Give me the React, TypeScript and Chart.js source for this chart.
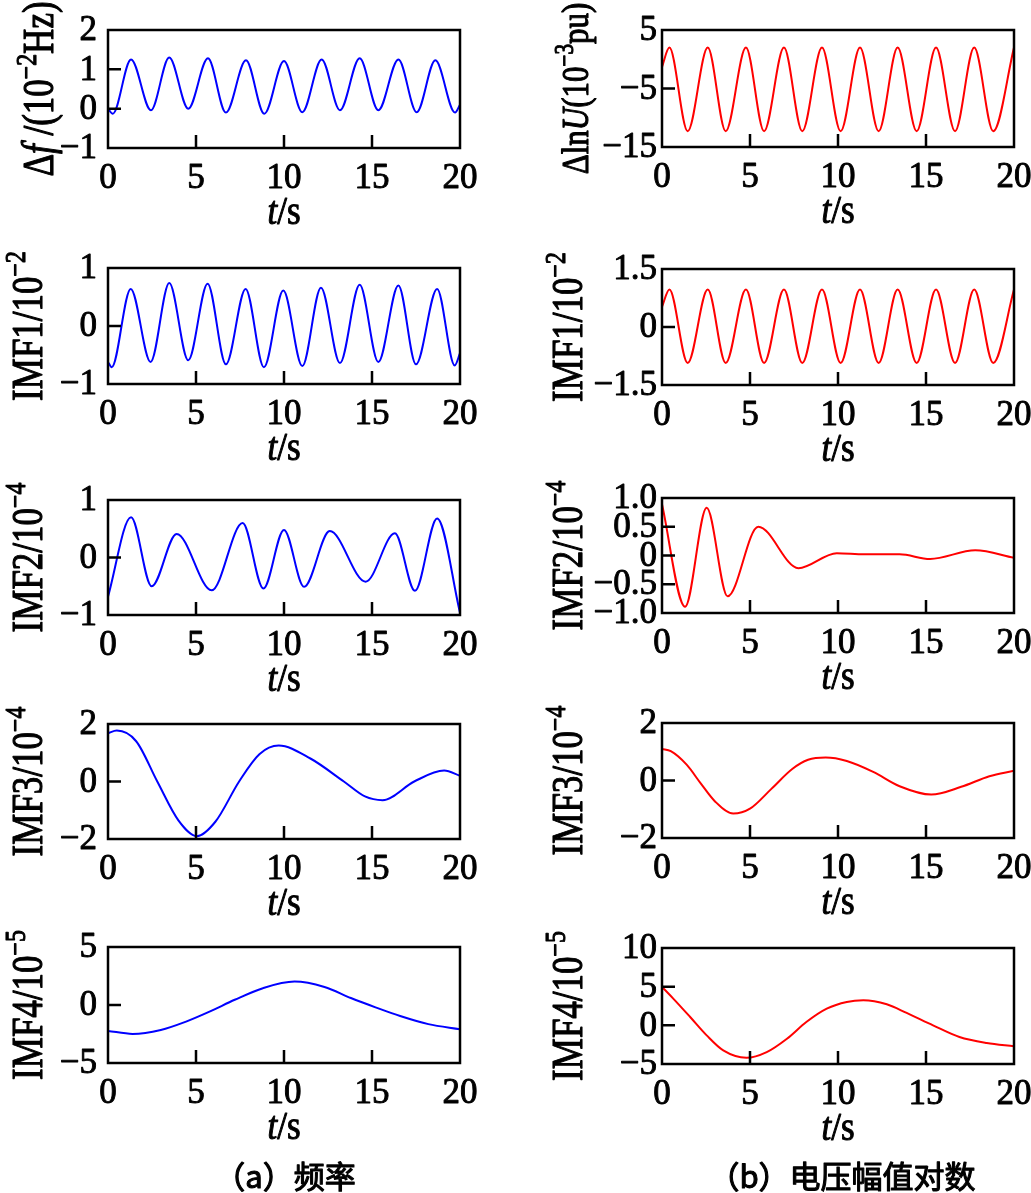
import React, { useEffect, useRef } from 'react';
import { Chart, registerables } from 'chart.js';

Chart.register(...registerables);

const PAGE_W = 1031;
const PAGE_H = 1193;
const SERIF = '"Liberation Serif", "Times New Roman", serif';
const CJK = '"Noto Sans CJK SC", sans-serif';

// ---------- data (time in s) ----------
const T_DF = [0, 0.27, 1.31, 2.44, 3.48, 4.56, 5.68, 6.7, 7.84, 8.88, 10.0, 11.04, 12.14, 13.18, 14.3, 15.36, 16.5, 17.54, 18.6, 19.72, 20];
const V_DF = [0.0, -0.13, 1.25, -0.04, 1.3, 0.0, 1.28, -0.1, 1.23, -0.13, 1.21, -0.09, 1.25, -0.04, 1.28, -0.04, 1.25, -0.09, 1.23, -0.1, 0.1];

const T_DLNU = [0, 0.42, 1.46, 2.6, 3.62, 4.77, 5.8, 6.93, 7.97, 9.09, 10.15, 11.25, 12.31, 13.39, 14.47, 15.57, 16.65, 17.74, 18.82, 20];
const V_DLNU = [-1.3, 2.0, -12.3, 2.0, -12.3, 2.0, -12.3, 2.0, -12.3, 2.0, -12.3, 2.0, -12.3, 2.0, -12.3, 2.0, -12.3, 2.0, -12.3, 2.0];

const T_F_IMF1 = [0, 0.21, 1.29, 2.42, 3.48, 4.56, 5.66, 6.7, 7.82, 8.86, 9.96, 11.04, 12.1, 13.18, 14.3, 15.36, 16.5, 17.5, 18.7, 19.7, 20];
const V_F_IMF1 = [-0.62, -0.71, 0.64, -0.62, 0.74, -0.59, 0.73, -0.66, 0.64, -0.71, 0.61, -0.69, 0.66, -0.64, 0.71, -0.62, 0.7, -0.66, 0.64, -0.68, -0.47];

const T_U_IMF1 = [0, 0.42, 1.46, 2.6, 3.62, 4.77, 5.8, 6.93, 7.97, 9.09, 10.15, 11.25, 12.31, 13.39, 14.47, 15.57, 16.65, 17.74, 18.82, 20];
const V_U_IMF1 = [0.52, 0.97, -0.93, 0.97, -0.93, 0.97, -0.93, 0.97, -0.93, 0.97, -0.93, 0.97, -0.93, 0.97, -0.93, 0.97, -0.93, 0.97, -0.93, 0.97];

const T_F_IMF2 = [0, 1.31, 2.48, 3.9, 5.89, 7.65, 8.83, 10.0, 11.14, 12.6, 14.64, 16.3, 17.44, 18.7, 20];
const V_F_IMF2 = [-0.68, 0.7, -0.5, 0.41, -0.57, 0.6, -0.54, 0.48, -0.51, 0.46, -0.42, 0.42, -0.58, 0.68, -0.96];

const T_U_IMF2 = [0, 1.31, 2.54, 3.73, 5.47, 7.75, 9.93, 11.5, 13.5, 15.23, 17.8, 20];
const V_U_IMF2 = [0.89, -0.89, 0.83, -0.71, 0.5, -0.22, 0.04, 0.02, 0.02, -0.06, 0.09, -0.04];

const T_F_IMF3 = [0, 0.5, 1.6, 2.8, 4.0, 5.05, 6.1, 7.45, 8.6, 9.7, 11.5, 13.4, 14.6, 15.6, 17.4, 19.1, 20];
const V_F_IMF3 = [1.68, 1.77, 1.4, 0.0, -1.35, -1.9, -1.4, 0.0, 0.95, 1.25, 0.8, 0.0, -0.52, -0.65, 0.0, 0.38, 0.2];

const T_U_IMF3 = [0, 0.5, 1.4, 2.2, 3.0, 4.05, 5.0, 6.2, 7.4, 8.3, 9.3, 10.5, 12.0, 13.5, 15.3, 17.0, 18.6, 20];
const V_U_IMF3 = [1.1, 1.02, 0.55, -0.1, -0.72, -1.15, -0.98, -0.3, 0.4, 0.72, 0.8, 0.68, 0.3, -0.2, -0.49, -0.22, 0.15, 0.34];

const T_F_IMF4 = [0, 1.4, 3.0, 4.4, 5.8, 7.2, 8.8, 10.6, 12.3, 13.8, 15.2, 16.6, 18.2, 20];
const V_F_IMF4 = [-2.23, -2.49, -2.15, -1.45, -0.55, 0.45, 1.45, 2.02, 1.55, 0.6, -0.2, -0.95, -1.65, -2.09];

const T_U_IMF4 = [0, 0.64, 1.6, 2.54, 3.48, 4.8, 5.95, 7.1, 8.2, 9.36, 10.5, 11.44, 12.77, 13.9, 15.4, 16.9, 18.45, 20];
const V_U_IMF4 = [4.97, 3.46, 1.08, -1.3, -3.24, -4.19, -3.46, -1.73, 0.43, 2.16, 3.03, 3.24, 2.72, 1.6, 0.0, -1.51, -2.29, -2.72];

// ---------- ticks ----------
const X_TICKS = [0, 5, 10, 15, 20];
const X_TICK_LABELS = ['0', '5', '10', '15', '20'];

const Y_TICKS_DF = [-1, 0, 1, 2];
const Y_LABELS_DF = ['\u22121', '0', '1', '2'];
const Y_TICKS_DLNU = [-15, -5, 5];
const Y_LABELS_DLNU = ['\u221215', '\u22125', '5'];
const Y_TICKS_F1 = [-1, 0, 1];
const Y_LABELS_F1 = ['\u22121', '0', '1'];
const Y_TICKS_U1 = [-1.5, 0, 1.5];
const Y_LABELS_U1 = ['\u22121.5', '0', '1.5'];
const Y_TICKS_F2 = [-1, 0, 1];
const Y_LABELS_F2 = ['\u22121', '0', '1'];
const Y_TICKS_U2 = [-1, -0.5, 0, 0.5, 1];
const Y_LABELS_U2 = ['\u22121.0', '\u22120.5', '0', '0.5', '1.0'];
const Y_TICKS_F3 = [-2, 0, 2];
const Y_LABELS_F3 = ['\u22122', '0', '2'];
const Y_TICKS_U3 = [-2, 0, 2];
const Y_LABELS_U3 = ['\u22122', '0', '2'];
const Y_TICKS_F4 = [-5, 0, 5];
const Y_LABELS_F4 = ['\u22125', '0', '5'];
const Y_TICKS_U4 = [-5, 0, 5, 10];
const Y_LABELS_U4 = ['\u22125', '0', '5', '10'];

const X_TITLE = [{ t: 't', it: true }, { t: '/s' }];
const TITLE_A = '\uff08a\uff09\u9891\u7387';
const TITLE_B = '\uff08b\uff09\u7535\u538b\u5e45\u503c\u5bf9\u6570';

type Part = { t: string; it?: boolean; sup?: boolean };

const BLUE = 'rgb(0,0,255)';
const RED = 'rgb(255,0,0)';

interface Panel {
  t: number[];
  v: number[];
  color: string;
  yTicks: number[];
  yLabels: string[];
  box: [number, number, number, number];
  yTitle: Part[];
  yTitleX: number;
  yTitleSize: number;
  gap: number;
  caption?: string;
  captionX?: number;
}

const imf = (n: string, e: string): Part[] => [{ t: 'IMF' + n + '/10' }, { t: '\u2212' + e, sup: true }];

const PANELS: Panel[] = [
  { t: T_DF, v: V_DF, color: BLUE, yTicks: Y_TICKS_DF, yLabels: Y_LABELS_DF, box: [108, 30, 460, 148],
    yTitle: [{ t: '\u0394' }, { t: 'f', it: true }, { t: ' /(10' }, { t: '\u22122', sup: true }, { t: 'Hz)' }], yTitleX: 53, yTitleSize: 35, gap: 11 },
  { t: T_DLNU, v: V_DLNU, color: RED, yTicks: Y_TICKS_DLNU, yLabels: Y_LABELS_DLNU, box: [662, 30, 1014, 147],
    yTitle: [{ t: '\u0394ln' }, { t: 'U', it: true }, { t: '(10' }, { t: '\u22123', sup: true }, { t: 'pu)' }], yTitleX: 588, yTitleSize: 31, gap: 5 },
  { t: T_F_IMF1, v: V_F_IMF1, color: BLUE, yTicks: Y_TICKS_F1, yLabels: Y_LABELS_F1, box: [108, 268, 460, 384], yTitle: imf('1', '2'), yTitleX: 42, yTitleSize: 35, gap: 11 },
  { t: T_U_IMF1, v: V_U_IMF1, color: RED, yTicks: Y_TICKS_U1, yLabels: Y_LABELS_U1, box: [662, 269, 1014, 385], yTitle: imf('1', '2'), yTitleX: 582, yTitleSize: 35, gap: 5 },
  { t: T_F_IMF2, v: V_F_IMF2, color: BLUE, yTicks: Y_TICKS_F2, yLabels: Y_LABELS_F2, box: [108, 500, 460, 615], yTitle: imf('2', '4'), yTitleX: 42, yTitleSize: 35, gap: 11 },
  { t: T_U_IMF2, v: V_U_IMF2, color: RED, yTicks: Y_TICKS_U2, yLabels: Y_LABELS_U2, box: [662, 498, 1014, 613], yTitle: imf('2', '4'), yTitleX: 582, yTitleSize: 35, gap: 5 },
  { t: T_F_IMF3, v: V_F_IMF3, color: BLUE, yTicks: Y_TICKS_F3, yLabels: Y_LABELS_F3, box: [108, 724, 460, 839], yTitle: imf('3', '4'), yTitleX: 42, yTitleSize: 35, gap: 11 },
  { t: T_U_IMF3, v: V_U_IMF3, color: RED, yTicks: Y_TICKS_U3, yLabels: Y_LABELS_U3, box: [662, 723, 1014, 838], yTitle: imf('3', '4'), yTitleX: 582, yTitleSize: 35, gap: 5 },
  { t: T_F_IMF4, v: V_F_IMF4, color: BLUE, yTicks: Y_TICKS_F4, yLabels: Y_LABELS_F4, box: [108, 947, 460, 1063], yTitle: imf('4', '5'), yTitleX: 42, yTitleSize: 35, gap: 11,
    caption: TITLE_A, captionX: 285 },
  { t: T_U_IMF4, v: V_U_IMF4, color: RED, yTicks: Y_TICKS_U4, yLabels: Y_LABELS_U4, box: [662, 948, 1014, 1064], yTitle: imf('4', '5'), yTitleX: 582, yTitleSize: 35, gap: 5,
    caption: TITLE_B, captionX: 842 },
];

const STROKE_W = 0.9;

function partFont(p: Part, size: number) {
  const s = p.sup ? size * 0.68 : size;
  return `${p.it ? 'italic ' : ''}${s}px ${SERIF}`;
}

function fillStroke(ctx: CanvasRenderingContext2D, text: string, x: number, y: number) {
  ctx.fillText(text, x, y);
  ctx.strokeText(text, x, y);
}

function drawRich(ctx: CanvasRenderingContext2D, parts: Part[], cx: number, baseY: number, size: number) {
  let w = 0;
  const widths: number[] = [];
  for (const p of parts) {
    ctx.font = partFont(p, size);
    const m = ctx.measureText(p.t).width;
    widths.push(m);
    w += m;
  }
  let x = cx - w / 2;
  ctx.textAlign = 'left';
  ctx.textBaseline = 'alphabetic';
  parts.forEach((p, i) => {
    ctx.font = partFont(p, size);
    fillStroke(ctx, p.t, x, p.sup ? baseY - size * 0.4 : baseY);
    x += widths[i];
  });
}

function makeFramePlugin(panel: Panel) {
  return {
    id: 'frame',
    afterDraw(chart: any) {
      const ctx: CanvasRenderingContext2D = chart.ctx;
      const { left, top, right, bottom } = chart.chartArea;
      const xs = chart.scales.x;
      const ys = chart.scales.y;
      ctx.save();
      ctx.strokeStyle = '#000';
      ctx.fillStyle = '#000';
      ctx.lineWidth = 2.5;
      ctx.strokeRect(left, top, right - left, bottom - top);
      const TL = 13;
      ctx.beginPath();
      X_TICKS.forEach((v) => {
        const px = xs.getPixelForValue(v);
        if (px > left + 2 && px < right - 2) {
          ctx.moveTo(px, bottom);
          ctx.lineTo(px, bottom - TL);
        }
      });
      panel.yTicks.forEach((v) => {
        const py = ys.getPixelForValue(v);
        if (py > top + 2 && py < bottom - 2) {
          ctx.moveTo(left, py);
          ctx.lineTo(left + TL, py);
        }
      });
      ctx.stroke();

      ctx.lineWidth = STROKE_W;
      ctx.lineJoin = 'round';

      // tick labels
      ctx.font = `35px ${SERIF}`;
      ctx.textAlign = 'center';
      ctx.textBaseline = 'middle';
      X_TICKS.forEach((v, i) => {
        fillStroke(ctx, X_TICK_LABELS[i], xs.getPixelForValue(v), bottom + 31);
      });
      ctx.textAlign = 'right';
      panel.yTicks.forEach((v, i) => {
        fillStroke(ctx, panel.yLabels[i], left - panel.gap, ys.getPixelForValue(v) + 1);
      });

      // x title
      ctx.save();
      ctx.translate((left + right) / 2, bottom + 76);
      ctx.scale(1, 1.12);
      drawRich(ctx, X_TITLE, 0, 0, 35);
      ctx.restore();

      // y title (rotated)
      ctx.save();
      ctx.translate(panel.yTitleX, (top + bottom) / 2);
      ctx.rotate(-Math.PI / 2);
      ctx.scale(1, 1.25);
      drawRich(ctx, panel.yTitle, 0, 0, panel.yTitleSize);
      ctx.restore();

      if (panel.caption) {
        ctx.font = `31px ${CJK}`;
        ctx.textAlign = 'center';
        ctx.textBaseline = 'middle';
        ctx.lineWidth = 1.1;
        fillStroke(ctx, panel.caption, panel.captionX as number, 1176);
      }
      ctx.restore();
    },
  };
}

function PanelChart({ panel }: { panel: Panel }) {
  const ref = useRef<HTMLCanvasElement | null>(null);
  useEffect(() => {
    if (!ref.current) return;
    const [L, T, R, B] = panel.box;
    const pts = panel.t.map((x, i) => ({ x, y: panel.v[i] }));
    const yMin = panel.yTicks[0];
    const yMax = panel.yTicks[panel.yTicks.length - 1];
    const chart = new Chart(ref.current, {
      type: 'line',
      data: {
        datasets: [
          {
            data: pts,
            borderColor: panel.color,
            borderWidth: 2,
            pointRadius: 0,
            fill: false,
            cubicInterpolationMode: 'monotone',
          },
        ],
      },
      options: {
        responsive: false,
        animation: false,
        devicePixelRatio: 1,
        events: [],
        layout: { padding: { left: L, top: T, right: PAGE_W - R, bottom: PAGE_H - B } },
        plugins: { legend: { display: false }, tooltip: { enabled: false } },
        scales: {
          x: { type: 'linear', min: 0, max: 20, display: false },
          y: { type: 'linear', min: yMin, max: yMax, display: false },
        },
      },
      plugins: [makeFramePlugin(panel)],
    } as any);
    return () => chart.destroy();
  }, [panel]);
  return (
    <canvas
      ref={ref}
      width={PAGE_W}
      height={PAGE_H}
      style={{ position: 'absolute', left: 0, top: 0, width: PAGE_W, height: PAGE_H }}
    />
  );
}

export default function App() {
  return (
    <div style={{ position: 'absolute', left: 0, top: 0, width: PAGE_W, height: PAGE_H, background: '#fff' }}>
      {PANELS.map((p, i) => (
        <PanelChart key={i} panel={p} />
      ))}
    </div>
  );
}
